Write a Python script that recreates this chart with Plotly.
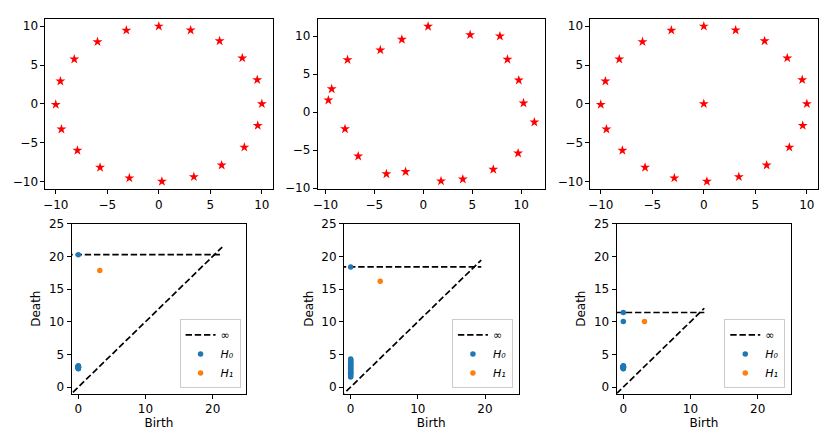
import plotly.graph_objects as go

# ring of 20 points (panels 1 and 3), noisy ring (panel 2)
RING_X = [0, 3.09, 5.9, 8.1, 9.55, 10, 9.6, 8.3, 6.1, 3.4,
          0.3, -2.86, -5.7, -7.9, -9.45, -10, -9.55, -8.2, -5.95, -3.15]
RING_Y = [10, 9.5, 8.1, 5.9, 3.09, 0, -2.8, -5.6, -7.9, -9.4,
          -10, -9.56, -8.2, -6.0, -3.26, -0.1, 2.92, 5.76, 8.0, 9.48]

NOISY_X = [0.49, 4.79, 7.83, 8.6, 9.76, 10.24, 11.35, 9.69, 7.15, 4.04,
           1.81, -1.81, -3.77, -6.65, -8.0, -9.7, -9.36, -7.74, -4.39, -2.19]
NOISY_Y = [11.28, 10.17, 10.0, 6.94, 4.21, 1.19, -1.32, -5.4, -7.53, -8.81,
           -9.06, -7.83, -8.13, -5.79, -2.21, 1.57, 3.06, 6.89, 8.17, 9.57]

# ring plus a centre point
CENTER_X = [0.0]
CENTER_Y = [0.0]

# persistence diagrams (H0 births are all 0)
H0_DEATH_1 = [2.8, 2.85, 2.9, 2.95, 3.0, 3.0, 3.05, 3.05, 3.1, 3.1,
              3.1, 3.15, 3.15, 3.2, 3.2, 3.25, 3.0, 2.95, 3.1]
H1_1 = ([3.2], [17.85])

H0_DEATH_2 = [1.55, 1.7, 1.9, 2.1, 2.2, 2.3, 2.5, 2.65, 2.8, 2.95,
              3.1, 3.25, 3.4, 3.55, 3.7, 3.85, 4.0, 4.15, 4.3]
H1_2 = ([4.4], [16.2])

H0_DEATH_3 = [2.8, 2.85, 2.9, 2.95, 3.0, 3.0, 3.05, 3.05, 3.1, 3.1,
              3.1, 3.15, 3.15, 3.2, 3.2, 3.25, 3.0, 2.95, 10.05]
H1_3 = ([3.15], [10.05])

# infinity level and extent of the dashed lines per diagram
INF_Y = [20.26, 18.39, 11.41]
LINE_LO = [-1.785, -1.62, -1.005]
LINE_HI = [21.42, 19.44, 12.06]

LEGEND_LABELS = ["∞", "H₀", "H₁"]

W, H = 830, 442
FONT = "DejaVu Sans"
FS = 12
BLUE = "#1f77b4"
ORANGE = "#ff7f0e"
DASH = "6.4px,2.8px"


def xdom(a, b):
    return [a / W, b / W]


def ydom(top, bottom):
    return [1 - bottom / H, 1 - top / H]


fig = go.Figure()

# -----------------------------
# top row: point clouds
# -----------------------------
clouds = [(RING_X, RING_Y), (NOISY_X, NOISY_Y),
          (RING_X + CENTER_X, RING_Y + CENTER_Y)]
for i, (cx, cy) in enumerate(clouds):
    n = i + 1
    fig.add_trace(go.Scatter(
        x=cx, y=cy, mode="markers",
        marker=dict(symbol="star", size=7.5, color="red", line=dict(width=0)),
        xaxis=f"x{n}", yaxis=f"y{n}", showlegend=False
    ))

# -----------------------------
# bottom row: persistence diagrams
# -----------------------------
diagrams = [(H0_DEATH_1, H1_1), (H0_DEATH_2, H1_2), (H0_DEATH_3, H1_3)]
legend_names = ["legend", "legend2", "legend3"]
for i, (h0, h1) in enumerate(diagrams):
    n = i + 4
    lg = legend_names[i]
    lo, hi, yinf = LINE_LO[i], LINE_HI[i], INF_Y[i]
    fig.add_trace(go.Scatter(
        x=[lo, hi], y=[lo, hi], mode="lines",
        line=dict(color="black", width=1.7, dash=DASH),
        xaxis=f"x{n}", yaxis=f"y{n}", showlegend=False, hoverinfo="skip"
    ))
    fig.add_trace(go.Scatter(
        x=[lo, hi], y=[yinf, yinf], mode="lines", name=LEGEND_LABELS[0],
        line=dict(color="black", width=1.7, dash=DASH),
        xaxis=f"x{n}", yaxis=f"y{n}", legend=lg
    ))
    fig.add_trace(go.Scatter(
        x=[0] * (len(h0) + 1), y=h0 + [yinf], mode="markers",
        name=LEGEND_LABELS[1],
        marker=dict(color=BLUE, size=5.5, line=dict(width=0)),
        xaxis=f"x{n}", yaxis=f"y{n}", legend=lg
    ))
    fig.add_trace(go.Scatter(
        x=h1[0], y=h1[1], mode="markers",
        name=LEGEND_LABELS[2],
        marker=dict(color=ORANGE, size=5.5, line=dict(width=0)),
        xaxis=f"x{n}", yaxis=f"y{n}", legend=lg
    ))

# -----------------------------
# axes
# -----------------------------
axis_style = dict(
    showline=True, mirror=True, linecolor="black", linewidth=1,
    ticks="outside", ticklen=4, tickwidth=1, tickcolor="black",
    showgrid=False, zeroline=False,
    tickfont=dict(family=FONT, size=FS, color="black"),
)

top_x = [(40.7, 269.3), (314.7, 543.3), (589.0, 817.6)]
top_ranges = [([-11.0, 11.05], [-11.0, 10.98]),
              ([-10.78, 12.44], [-10.13, 12.3]),
              ([-11.0, 11.05], [-11.0, 10.98])]
bot_x = [(67.0, 242.7), (341.0, 516.7), (615.3, 791.0)]
legend_right = [237, 511, 785]

layout = dict(
    width=W, height=H,
    margin=dict(l=0, r=0, t=0, b=0),
    paper_bgcolor="white", plot_bgcolor="white",
    font=dict(family=FONT, size=FS, color="black"),
)

for i in range(3):
    n = i + 1
    layout[f"xaxis{n}"] = dict(
        axis_style, domain=xdom(*top_x[i]), range=top_ranges[i][0],
        tickvals=[-10, -5, 0, 5, 10], anchor=f"y{n}"
    )
    layout[f"yaxis{n}"] = dict(
        axis_style, domain=ydom(12, 187.7), range=top_ranges[i][1],
        tickvals=[-10, -5, 0, 5, 10], anchor=f"x{n}"
    )

for i in range(3):
    n = i + 4
    layout[f"xaxis{n}"] = dict(
        axis_style, domain=xdom(*bot_x[i]), range=[-1, 25],
        tickvals=[0, 10, 20], anchor=f"y{n}",
        title=dict(text="Birth", font=dict(size=FS), standoff=3)
    )
    layout[f"yaxis{n}"] = dict(
        axis_style, domain=ydom(223.3, 398.3), range=[-1, 25],
        tickvals=[0, 5, 10, 15, 20, 25], anchor=f"x{n}",
        title=dict(text="Death", font=dict(size=FS), standoff=5)
    )
    layout[legend_names[i]] = dict(
        x=legend_right[i] / W, y=1 - 393 / H,
        xanchor="right", yanchor="bottom",
        bgcolor="rgba(255,255,255,0.8)", bordercolor="#cccccc", borderwidth=1,
        font=dict(family=FONT, size=11, style="italic"),
        itemwidth=30, tracegroupgap=0
    )

fig.update_layout(**layout)

# drop the browser's default body margin so the figure sits at (0, 0)
fig.write_html(
    "out.html",
    config={"displayModeBar": False},
    post_script="document.body.style.margin='0';",
)
